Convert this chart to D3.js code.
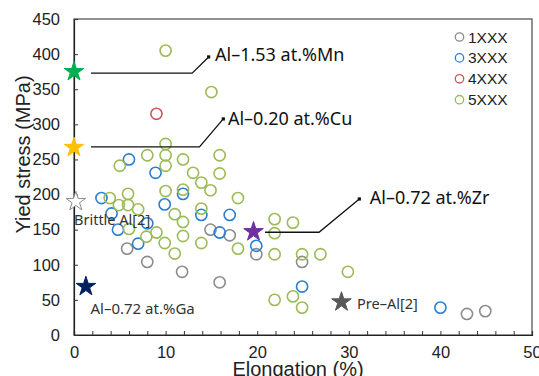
<!DOCTYPE html>
<html><head><meta charset="utf-8">
<script src="https://cdn.jsdelivr.net/npm/d3@7"></script>
<style>body{margin:0;background:#fff}svg{display:block}</style>
</head><body>
<svg id="c" width="539" height="376"></svg>
<script>
// ---- data ----
const series = ["1XXX", "3XXX", "4XXX", "5XXX"];
const data1XXX = [[5.8,123],[8,104],[11.8,90],[14.9,150],[17,142],[15.9,75],[19.9,115],[24.9,104],[42.9,30],[44.9,34]];
const data3XXX = [[3,195],[6,250],[8.9,231],[9.9,186],[4.1,173],[4.8,150],[8,159],[7,130],[11.9,201],[13.9,171],[17,171],[15.9,146],[19.9,127],[24.9,69],[40,39]];
const data4XXX = [[9,315]];
const data5XXX = [[10,405],[15,346],[10,272],[10,256],[10,241],[8,256],[5,241],[11.9,250],[15.9,256],[15.9,230],[13,231],[13.9,217],[14.9,206],[10,205],[11.9,207],[17.9,195],[3.9,195],[5.9,201],[4.9,185],[5.9,185],[7,179],[11,172],[13.9,180],[11.9,161],[6,151],[9,146],[7.9,140],[9.9,131],[11,116],[11.9,141],[13.9,131],[17.9,123],[21.9,165],[21.9,145],[23.9,160],[21.9,115],[24.9,115],[26.9,115],[29.9,90],[21.9,50],[23.9,55],[24.9,39]];
const starNames = ["Al–1.53 at.%Mn","Al–0.20 at.%Cu","Brittle Al[2]","Al–0.72 at.%Ga","Al–0.72 at.%Zr","Pre–Al[2]"];
const starValues = [[0,375],[0,267],[0.2,190],[1.3,69],[19.6,147],[29.2,47]];
// label anchor points in data units (elongation, stress)
const labelPoints = [[15.4,390],[16.8,299],[0,156.7],[1.8,30],[32.3,186.6],[30.9,37]];
// leader lines (data units) for the three big labels
const leaderLines = [
  [[1.86,372.8],[12.9,372.8],[14.7,396]],
  [[1.86,268],[13.7,268],[16.3,307.7]],
  [[20.85,146.3],[26.75,146.3],[31.15,193.7]]
];
const xTickLabels = [0,10,20,30,40,50];
const yTickLabels = [0,50,100,150,200,250,300,350,400,450];
const xMinorTicks = d3.range(0,51,2);

// ---- styles ----
const seriesColors = ["#8c8c8c","#2a7fd0","#c9585c","#9bbb59"];
const starFill = ["#00b050","#ffc000","#ffffff","#002060","#7030a0","#595959"];
const starStroke = ["#00b050","#ffc000","#8c8c8c","#002060","#7030a0","#595959"];
const labelSize = [18,18,14.5,15,18,14.5];
const labelColor = ["#111","#111","#333","#333","#111","#333"];

const svg = d3.select("#c");
const x = d3.scaleLinear().domain([0,50]).range([74,532]);
const y = d3.scaleLinear().domain([0,450]).range([335,19]);

// frame
svg.append("rect").attr("x",74).attr("y",19).attr("width",532-74).attr("height",335-19)
  .attr("fill","none").attr("stroke","#4a4a4a").attr("stroke-width",1.2);

// x minor ticks (inward)
const gxm = svg.append("g").attr("transform","translate(0,335)")
  .call(d3.axisBottom(x).tickValues(xMinorTicks).tickSize(-4).tickFormat(""));
gxm.select(".domain").attr("stroke","#222").attr("stroke-width",1.2);
gxm.selectAll(".tick line").attr("stroke","#333");
// x labels
const gx = svg.append("g").attr("transform","translate(0,335)")
  .call(d3.axisBottom(x).tickValues(xTickLabels).tickSize(0).tickPadding(11).tickFormat(d3.format("d")));
gx.select(".domain").remove();
gx.selectAll("text").attr("font-family","'Liberation Sans',Arial,sans-serif").attr("font-size",16.5).attr("fill","#222");

// y ticks
const gy = svg.append("g").attr("transform","translate(74,0)")
  .call(d3.axisLeft(y).tickValues(yTickLabels).tickSize(-4).tickPadding(14).tickFormat(d3.format("d")));
gy.select(".domain").attr("stroke","#222").attr("stroke-width",1.2);
gy.selectAll(".tick line").attr("stroke","#333");
gy.selectAll("text").attr("font-family","'Liberation Sans',Arial,sans-serif").attr("font-size",16.5).attr("fill","#222");

// axis titles
svg.append("text").attr("x",298).attr("y",375.5).attr("text-anchor","middle")
  .attr("font-family","'Liberation Sans',Arial,sans-serif").attr("font-size",20).attr("fill","#222")
  .text("Elongation (%)");
svg.append("text").attr("transform","translate(30,154.5) rotate(-90)").attr("text-anchor","middle")
  .attr("font-family","'Liberation Sans',Arial,sans-serif").attr("font-size",20).attr("fill","#222")
  .text("Yied stress (MPa)");

// scatter
const all = [data1XXX,data3XXX,data4XXX,data5XXX];
all.forEach((arr,i)=>{
  svg.append("g").selectAll("circle").data(arr).join("circle")
    .attr("cx",d=>x(d[0])).attr("cy",d=>y(d[1])).attr("r",5.6)
    .attr("fill","none").attr("stroke",seriesColors[i]).attr("stroke-width",1.6);
});

// leader lines
const line = d3.line().x(d=>x(d[0])).y(d=>y(d[1]));
leaderLines.forEach(pts=>{
  svg.append("path").attr("d",line(pts)).attr("fill","none").attr("stroke","#111").attr("stroke-width",1.3);
  const e = pts[pts.length-1];
  svg.append("rect").attr("x",x(e[0])-1.6).attr("y",y(e[1])-1.6).attr("width",3.2).attr("height",3.2).attr("fill","#111");
});

// stars
const star = d3.symbol(d3.symbolStar, 118);
svg.append("g").selectAll("path").data(starValues).join("path")
  .attr("d",star).attr("transform",d=>`translate(${x(d[0])},${y(d[1])})`)
  .attr("fill",(d,i)=>starFill[i]).attr("stroke",(d,i)=>starStroke[i]).attr("stroke-width",1);

// labels
svg.append("g").selectAll("text").data(labelPoints).join("text")
  .attr("x",d=>x(d[0])).attr("y",d=>y(d[1]))
  .attr("font-family","'Noto Sans','Open Sans',sans-serif")
  .attr("font-size",(d,i)=>labelSize[i]).attr("fill",(d,i)=>labelColor[i])
  .text((d,i)=>starNames[i]);

// legend
const lg = svg.append("g");
series.forEach((s,i)=>{
  const yy = 37 + i*20.9;
  lg.append("circle").attr("cx",459.5).attr("cy",yy).attr("r",4.2).attr("fill","none")
    .attr("stroke",seriesColors[i]).attr("stroke-width",1.3);
  lg.append("text").attr("x",468).attr("y",yy+5.5)
    .attr("font-family","'Liberation Sans',Arial,sans-serif").attr("font-size",15.5).attr("fill","#222").text(s);
});
</script>
</body></html>
